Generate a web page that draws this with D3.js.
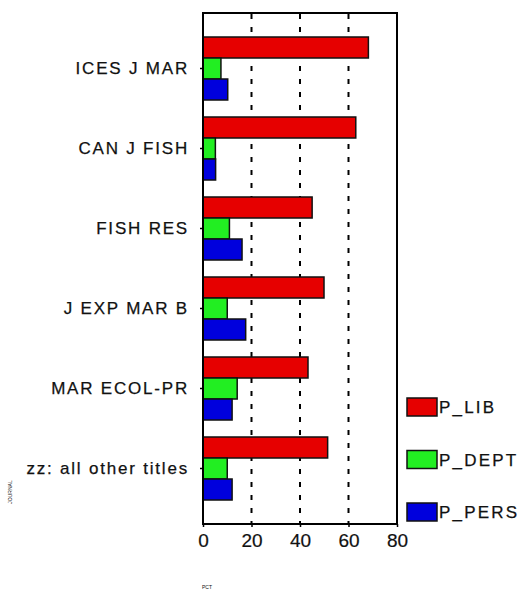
<!DOCTYPE html>
<html>
<head>
<meta charset="utf-8">
<script src="https://cdn.jsdelivr.net/npm/d3@7"></script>
<style>
  html, body { margin: 0; padding: 0; background: #ffffff; }
  svg { display: block; }
  text { font-family: "Liberation Sans", Arial, sans-serif; fill: #111; }
</style>
</head>
<body>
<div id="chart"></div>
<script>
const categories = ["ICES J MAR", "CAN J FISH", "FISH RES", "J EXP MAR B", "MAR ECOL-PR", "zz: all other titles"];
const seriesNames = ["P_LIB", "P_DEPT", "P_PERS"];
const pLib  = [68.2, 63.0, 45.0, 49.9, 43.3, 51.4];
const pDept = [7.4, 5.1, 10.9, 10.0, 14.1, 10.0];
const pPers = [10.2, 5.2, 16.1, 17.6, 12.0, 12.0];
const xTicks = [0, 20, 40, 60, 80];
const gridTicks = [20, 40, 60];
const seriesColors = ["#e60000", "#22ee22", "#0000dd"];

const W = 524, H = 592;
const plot = { left: 203, top: 13, right: 397, bottom: 524 };

const svg = d3.select("#chart").append("svg").attr("width", W).attr("height", H);

const x = d3.scaleLinear().domain([0, 80]).range([plot.left, plot.right]);
const y = d3.scaleBand().domain(categories).range([plot.top, plot.bottom])
  .paddingInner(0.2125).paddingOuter(0.3);
const ySub = d3.scaleBand().domain(seriesNames).range([0, y.bandwidth()]);
const color = d3.scaleOrdinal().domain(seriesNames).range(seriesColors);

const values = { P_LIB: pLib, P_DEPT: pDept, P_PERS: pPers };
const rows = categories.map((c, i) => ({ cat: c, vals: seriesNames.map(s => ({ key: s, v: values[s][i] })) }));

// gridlines
svg.append("g").selectAll("line").data(gridTicks).join("line")
  .attr("x1", d => x(d)).attr("x2", d => x(d))
  .attr("y1", plot.top + 1).attr("y2", plot.bottom)
  .attr("stroke", "#000").attr("stroke-width", 2)
  .attr("stroke-dasharray", "5 8");

// bars
const groups = svg.append("g").selectAll("g").data(rows).join("g")
  .attr("transform", d => `translate(0,${y(d.cat)})`);
groups.selectAll("rect").data(d => d.vals).join("rect")
  .attr("x", x(0))
  .attr("y", d => ySub(d.key))
  .attr("width", d => x(d.v) - x(0))
  .attr("height", ySub.bandwidth())
  .attr("fill", d => color(d.key))
  .attr("stroke", "#111").attr("stroke-width", 1.5);

// frame
svg.append("rect")
  .attr("x", plot.left).attr("y", plot.top)
  .attr("width", plot.right - plot.left).attr("height", plot.bottom - plot.top)
  .attr("fill", "none").attr("stroke", "#000").attr("stroke-width", 2);

// y axis
const yAxis = svg.append("g").attr("transform", `translate(${plot.left},0)`)
  .call(d3.axisLeft(y).tickSize(3).tickPadding(11));
yAxis.select(".domain").remove();
yAxis.selectAll(".tick line").attr("stroke", "#000").attr("stroke-width", 1.5);
yAxis.selectAll(".tick text")
  .attr("font-size", 17).attr("letter-spacing", 1.8)
  .attr("font-family", "Liberation Sans, Arial, sans-serif")
  .attr("fill", "#111").attr("stroke", "#111").attr("stroke-width", 0.25)
  .attr("dy", "0.33em");

// x axis
const xAxis = svg.append("g").attr("transform", `translate(0,${plot.bottom})`)
  .call(d3.axisBottom(x).tickValues(xTicks).tickSize(3).tickPadding(7).tickFormat(d3.format("d")));
xAxis.select(".domain").remove();
xAxis.selectAll(".tick line").attr("stroke", "#000").attr("stroke-width", 1.5);
xAxis.selectAll(".tick text")
  .attr("font-size", 19)
  .attr("font-family", "Liberation Sans, Arial, sans-serif")
  .attr("fill", "#111").attr("stroke", "#111").attr("stroke-width", 0.2);

// legend
const legY = d3.scalePoint().domain(seriesNames).range([398, 503]);
const leg = svg.append("g").selectAll("g").data(seriesNames).join("g")
  .attr("transform", d => `translate(407,${legY(d)})`);
leg.append("rect").attr("width", 30).attr("height", 18)
  .attr("fill", d => color(d)).attr("stroke", "#111").attr("stroke-width", 1.5);
leg.append("text").attr("x", 32).attr("y", 15)
  .attr("font-size", 17).attr("letter-spacing", 2.2)
  .attr("stroke", "#111").attr("stroke-width", 0.25)
  .text(d => d);

// tiny axis titles
svg.append("text").attr("transform", "translate(12,492) rotate(-90)")
  .attr("font-size", 5).attr("text-anchor", "middle").attr("fill", "#333").text("JOURNAL");
svg.append("text").attr("x", 207).attr("y", 589)
  .attr("font-size", 5).attr("text-anchor", "middle").attr("fill", "#333").text("PCT");
</script>
</body>
</html>
